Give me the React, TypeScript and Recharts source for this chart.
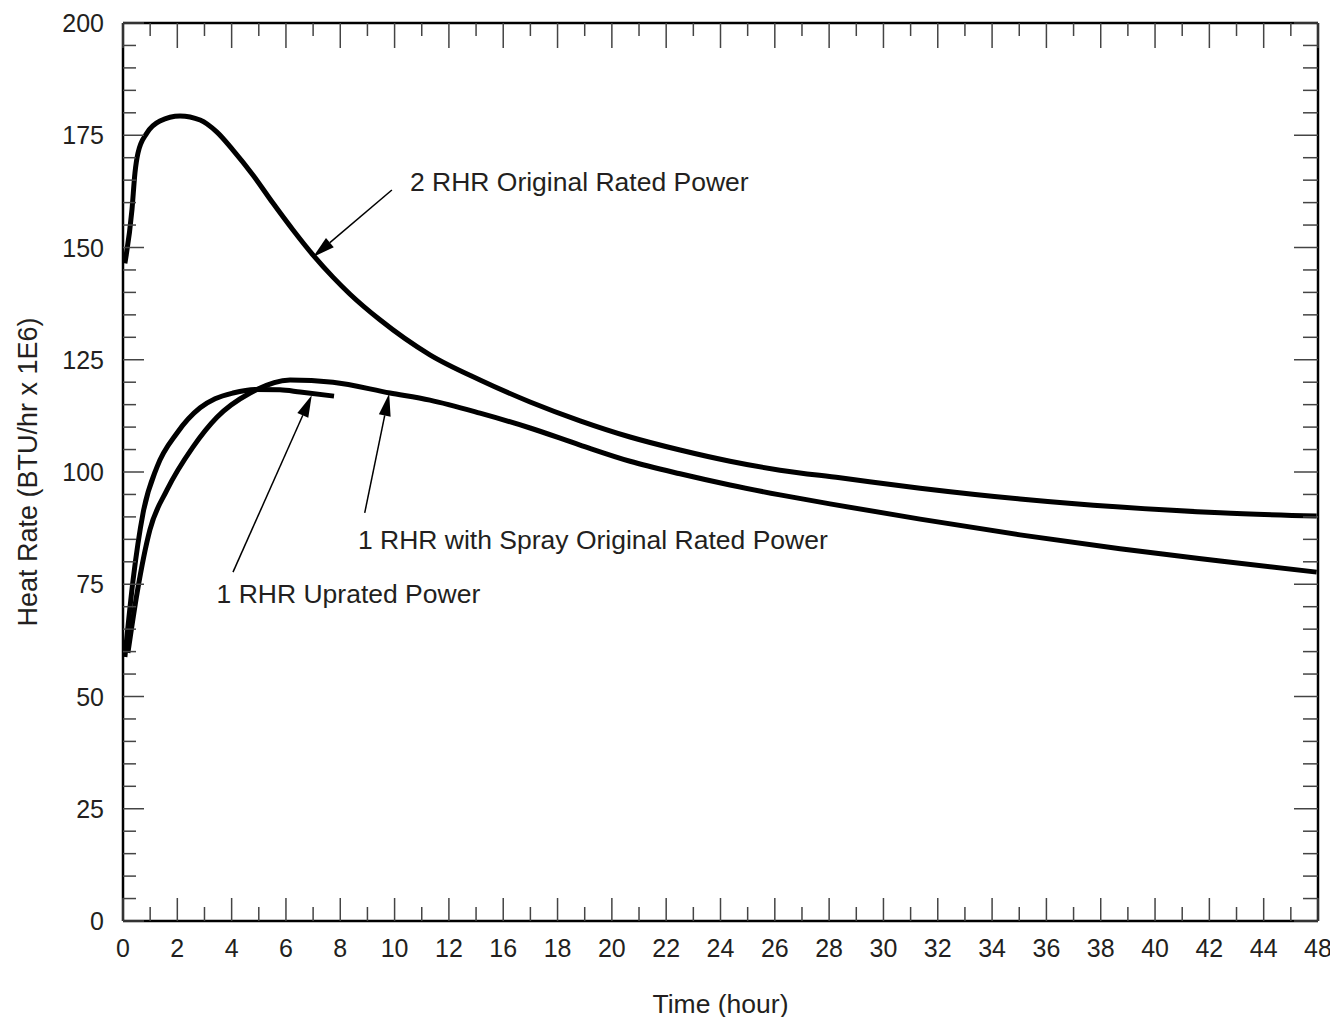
import React from "react"
import { LineChart, Line, XAxis, YAxis, ReferenceLine, ReferenceDot } from "recharts"

// hour labels printed under the time axis; they sit at equal steps (14 and 46 are not printed)
const timeLabels = [0, 2, 4, 6, 8, 10, 12, 16, 18, 20, 22, 24, 26, 28, 30, 32, 34, 36, 38, 40, 42, 44, 48]
const heatMax = 200

// 2 RHR Original Rated Power
const rhr2Hours = [0.07, 0.33, 0.44, 0.55, 0.88, 1.36, 2.1, 2.84, 3.46, 4.05, 4.79, 5.52, 6.26, 7.0, 7.73, 8.36, 9.46, 11.3, 14.29, 16.99, 18.83, 20.67, 22.51, 24.35, 26.19, 28.4, 31.35, 35.03, 38.71, 42.4, 47.9]
const rhr2Heat = [146.5, 158.4, 166.6, 171.0, 175.5, 178.2, 179.3, 178.4, 175.7, 171.7, 166.1, 159.9, 153.9, 148.3, 143.4, 139.6, 133.9, 126.1, 120.5, 115.6, 111.4, 107.8, 104.9, 102.4, 100.4, 98.7, 96.4, 94.0, 92.2, 90.9, 90.2]

// 1 RHR with Spray Original Rated Power
const sprayHours = [0.18, 0.52, 0.99, 1.62, 2.58, 3.46, 4.68, 6.15, 7.73, 9.83, 11.3, 14.29, 16.99, 18.83, 20.67, 22.51, 24.35, 26.19, 28.03, 31.35, 35.03, 38.71, 42.4, 47.9]
const sprayHeat = [59.7, 73.1, 87.1, 96.0, 105.6, 112.2, 117.6, 120.5, 120.0, 117.6, 116.0, 113.1, 109.8, 106.0, 102.4, 99.6, 97.1, 94.9, 92.9, 89.5, 86.0, 82.9, 80.2, 77.7]

// 1 RHR Uprated Power
const upratedHours = [0.07, 0.37, 0.74, 1.25, 1.99, 2.84, 3.39, 4.05, 4.86, 5.78, 6.52, 7.77]
const upratedHeat = [58.8, 75.9, 90.9, 101.1, 108.7, 114.3, 116.3, 117.6, 118.4, 118.3, 117.8, 116.9]

// callouts
const noteText = ["2 RHR Original Rated Power", "1 RHR with Spray Original Rated Power", "1 RHR Uprated Power"]
const noteHours = [18.8, 19.3, 8.3]
const noteHeat = [164.8, 84.9, 73.0]
const arrowFromHours = [9.9, 8.9, 4.05]
const arrowFromHeat = [162.8, 90.9, 77.7]
const arrowToHours = [7.0, 9.8, 6.95]
const arrowToHeat = [147.9, 117.4, 117.1]

const ink = "#231f20"
const tickFont = 25
const textFont = 26.5

const chartW = 1330
const chartH = 1010
const marginTop = 15
const xAxisH = 97
const plotH = chartH - marginTop - xAxisH

// position on the printed axis (labels are equally spaced)
function toAxis(h: number) {
  for (let i = 0; i < timeLabels.length - 1; i++) {
    const a = timeLabels[i]
    const b = timeLabels[i + 1]
    if (h <= b) return i + (h - a) / (b - a)
  }
  return timeLabels.length - 1
}

const toPoints = (hours: number[], heat: number[]) => hours.map((h, i) => ({ x: toAxis(h), y: heat[i] }))

const rhr2Data = toPoints(rhr2Hours, rhr2Heat)
const sprayData = toPoints(sprayHours, sprayHeat)
const upratedData = toPoints(upratedHours, upratedHeat)

const xTicks: number[] = []
for (let i = 0; i <= (timeLabels.length - 1) * 2; i++) xTicks.push(i / 2)
const yTicks: number[] = []
for (let v = 0; v <= heatMax; v += 5) yTicks.push(v)

// bottom ticks point up; the matching top ticks hang down from the frame
const BottomTick = (props: any) => {
  const { x, y, payload } = props
  const major = Number.isInteger(payload.value)
  const top = y - plotH
  return (
    <g>
      <line x1={x} y1={y} x2={x} y2={y - (major ? 23 : 14)} stroke="#444" strokeWidth={1.5} />
      <line x1={x} y1={top} x2={x} y2={top + (major ? 25 : 13)} stroke="#444" strokeWidth={1.5} />
      {major && (
        <text x={x} y={y + 36} textAnchor="middle" fontSize={tickFont} fill={ink}>
          {timeLabels[payload.value]}
        </text>
      )}
    </g>
  )
}

const LeftTick = (props: any) => {
  const { x, y, payload } = props
  const major = payload.value % 25 === 0
  return (
    <g>
      <line x1={x} y1={y} x2={x + (major ? 21 : 13)} y2={y} stroke="#444" strokeWidth={1.5} />
      {major && (
        <text x={x - 19} y={y + 9} textAnchor="end" fontSize={tickFont} fill={ink}>
          {payload.value}
        </text>
      )}
    </g>
  )
}

const RightTick = (props: any) => {
  const { x, y, payload } = props
  const major = payload.value % 25 === 0
  return <line x1={x} y1={y} x2={x - (major ? 24 : 15)} y2={y} stroke="#444" strokeWidth={1.5} />
}

const Arrow = (props: any) => {
  const { x1, y1, x2, y2 } = props
  const dx = x2 - x1
  const dy = y2 - y1
  const len = Math.hypot(dx, dy) || 1
  const ux = dx / len
  const uy = dy / len
  const hl = 22
  const hw = 6
  const bx = x2 - ux * hl
  const by = y2 - uy * hl
  return (
    <g>
      <line x1={x1} y1={y1} x2={bx} y2={by} stroke="#000" strokeWidth={1.5} />
      <polygon points={`${x2},${y2} ${bx - uy * hw},${by + ux * hw} ${bx + uy * hw},${by - ux * hw}`} fill="#000" />
    </g>
  )
}

const axisLine = { stroke: "#000", strokeWidth: 2.5 }

export default function App() {
  return (
    <div style={{ width: chartW, height: chartH, fontFamily: "'Liberation Sans', Arial, sans-serif" }}>
      <LineChart width={chartW} height={chartH} margin={{ top: marginTop, right: 20, bottom: 0, left: 0 }}>
        <XAxis
          type="number"
          dataKey="x"
          domain={[0, timeLabels.length - 1]}
          ticks={xTicks}
          interval={0}
          allowDataOverflow
          height={xAxisH}
          tickSize={0}
          tickMargin={0}
          tickLine={false}
          axisLine={axisLine}
          tick={<BottomTick />}
          label={{ value: "Time (hour)", position: "insideBottom", offset: 5, fontSize: textFont, fill: ink }}
        />
        <XAxis
          xAxisId="top"
          orientation="top"
          mirror
          type="number"
          domain={[0, timeLabels.length - 1]}
          allowDataOverflow
          tickLine={false}
          tick={false}
          axisLine={axisLine}
        />
        <YAxis
          type="number"
          domain={[0, heatMax]}
          ticks={yTicks}
          interval={0}
          allowDataOverflow
          width={115}
          tickSize={0}
          tickMargin={0}
          tickLine={false}
          axisLine={axisLine}
          tick={<LeftTick />}
          label={{
            value: "Heat Rate (BTU/hr x 1E6)",
            angle: -90,
            position: "insideLeft",
            offset: 19,
            fontSize: 27,
            fill: ink,
            style: { textAnchor: "middle" },
          }}
        />
        <YAxis
          yAxisId="right"
          orientation="right"
          mirror
          type="number"
          domain={[0, heatMax]}
          ticks={yTicks}
          interval={0}
          allowDataOverflow
          tickSize={0}
          tickMargin={0}
          tickLine={false}
          axisLine={axisLine}
          tick={<RightTick />}
        />
        <Line data={rhr2Data} dataKey="y" type="monotone" stroke="#000" strokeWidth={5} dot={false} isAnimationActive={false} />
        <Line data={sprayData} dataKey="y" type="monotone" stroke="#000" strokeWidth={5} dot={false} isAnimationActive={false} />
        <Line data={upratedData} dataKey="y" type="monotone" stroke="#000" strokeWidth={5} dot={false} isAnimationActive={false} />
        {noteText.map((t, i) => (
          <ReferenceLine
            key={"a" + i}
            segment={[
              { x: toAxis(arrowFromHours[i]), y: arrowFromHeat[i] },
              { x: toAxis(arrowToHours[i]), y: arrowToHeat[i] },
            ]}
            ifOverflow="visible"
            shape={<Arrow />}
          />
        ))}
        {noteText.map((t, i) => (
          <ReferenceDot
            key={"t" + i}
            x={toAxis(noteHours[i])}
            y={noteHeat[i]}
            r={1}
            ifOverflow="visible"
            shape={(p: any) => (
              <text x={p.cx} y={p.cy} dy={9.5} textAnchor="middle" fontSize={textFont} fill={ink}>
                {t}
              </text>
            )}
          />
        ))}
      </LineChart>
    </div>
  )
}
